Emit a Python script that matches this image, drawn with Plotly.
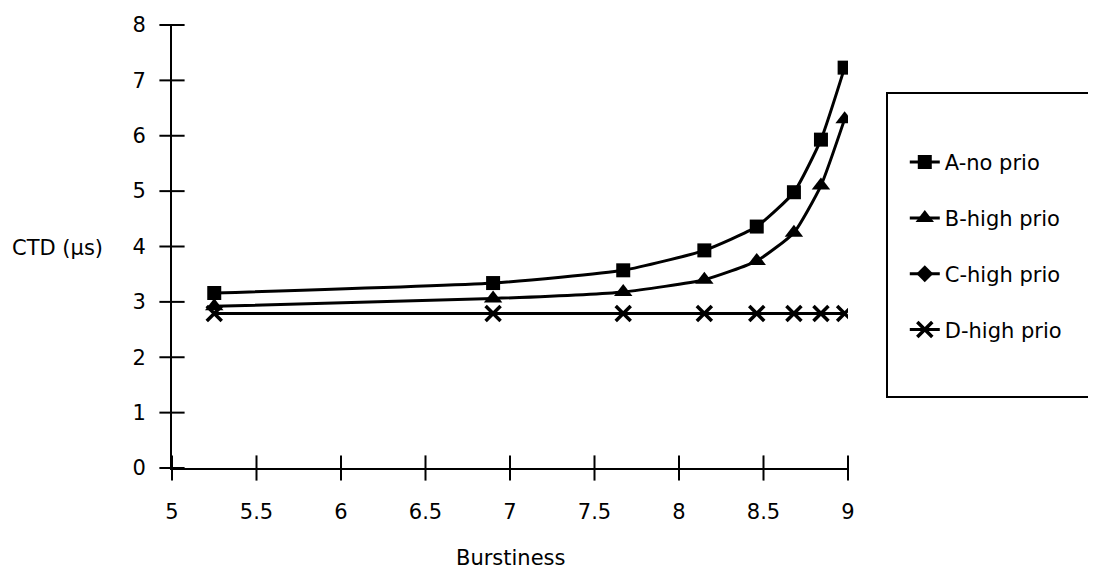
import plotly.graph_objects as go

burstiness = [5.25, 6.9, 7.67, 8.15, 8.46, 8.68, 8.84, 8.98]
a_no_prio = [3.16, 3.34, 3.57, 3.93, 4.36, 4.98, 5.93, 7.23]
b_high_prio = [2.92, 3.06, 3.18, 3.40, 3.74, 4.25, 5.10, 6.30]
c_high_prio = [2.79, 2.79, 2.79, 2.79, 2.79, 2.79, 2.79, 2.79]
d_high_prio = [2.79, 2.79, 2.79, 2.79, 2.79, 2.79, 2.79, 2.79]
x_ticks = [5, 5.5, 6, 6.5, 7, 7.5, 8, 8.5, 9]
y_ticks = [0, 1, 2, 3, 4, 5, 6, 7, 8]

FONT = "DejaVu Sans, Arial, sans-serif"
FS = 21

# plot area in figure pixels (page adds 8px body margin)
L, T, W, H = 164, 17, 676, 443
FIG_W, FIG_H = 1096, 576

fig = go.Figure()
# C coincides with D in the chart (its markers are hidden under the X marks)
fig.add_trace(go.Scatter(x=burstiness, y=c_high_prio, name="C-high prio", mode="lines",
                         line=dict(color="black", width=3),
                         legendgroup="c", showlegend=False))
fig.add_trace(go.Scatter(x=[None], y=[None], name="C-high prio", mode="lines+markers",
                         line=dict(color="black", width=3),
                         marker=dict(symbol="diamond", size=13, color="black"),
                         legendgroup="c", legendrank=3))
fig.add_trace(go.Scatter(x=burstiness, y=d_high_prio, name="D-high prio", mode="lines+markers",
                         line=dict(color="black", width=3),
                         marker=dict(symbol="x-thin", size=15, color="black",
                                     line=dict(color="black", width=3.5)),
                         legendgroup="d", legendrank=4))
fig.add_trace(go.Scatter(x=burstiness, y=b_high_prio, name="B-high prio", mode="lines+markers",
                         line=dict(color="black", width=3, shape="spline", smoothing=0.5),
                         marker=dict(symbol="triangle-up", size=16, color="black"),
                         legendgroup="b", legendrank=2))
fig.add_trace(go.Scatter(x=burstiness, y=a_no_prio, name="A-no prio", mode="lines+markers",
                         line=dict(color="black", width=3, shape="spline", smoothing=0.5),
                         marker=dict(symbol="square", size=14, color="black"),
                         legendgroup="a", legendrank=1))

# cross-style tick marks (straddling the axis lines), placed via the axis scales
fig.add_trace(go.Scatter(x=x_ticks, y=[0] * len(x_ticks), mode="markers",
                         marker=dict(symbol="line-ns", size=18, color="black",
                                     line=dict(color="black", width=2)),
                         showlegend=False, hoverinfo="skip", cliponaxis=False))
fig.add_trace(go.Scatter(x=[5] * len(y_ticks), y=y_ticks, mode="markers",
                         marker=dict(symbol="line-ew", size=18, color="black",
                                     line=dict(color="black", width=2)),
                         showlegend=False, hoverinfo="skip", cliponaxis=False))

axis_common = dict(showgrid=False, zeroline=False, showline=True, linecolor="black",
                   linewidth=2, ticks="")

fig.update_layout(
    width=FIG_W, height=FIG_H,
    margin=dict(l=L, r=FIG_W - L - W, t=T, b=FIG_H - T - H, autoexpand=False),
    paper_bgcolor="white", plot_bgcolor="white",
    font=dict(family=FONT, size=FS, color="black"),
    xaxis=dict(range=[5, 9], tickvals=x_ticks, ticktext=[f"{v:g}" for v in x_ticks],
               ticklabelstandoff=24, **axis_common),
    yaxis=dict(range=[0, 8], tickvals=y_ticks, ticktext=[str(v) for v in y_ticks],
               ticklabelstandoff=20, **axis_common),
    legend=dict(x=1.084, y=0.736, xanchor="left", yanchor="top",
                bgcolor="rgba(0,0,0,0)", borderwidth=0,
                traceorder="grouped", tracegroupgap=25.5,
                font=dict(family=FONT, size=FS, color="black")),
    showlegend=True,
    annotations=[
        dict(text="CTD (µs)", xref="paper", yref="paper", x=(2 - L) / W, y=(T + H - 240) / H,
             showarrow=False, xanchor="left", yanchor="middle", font=dict(size=FS)),
        dict(text="Burstiness", xref="paper", yref="paper", x=(503 - L) / W, y=(T + H - 550) / H,
             showarrow=False, xanchor="center", yanchor="middle", font=dict(size=FS)),
    ],
    shapes=[dict(type="rect", xref="paper", yref="paper",
                 x0=(879 - L) / W, x1=(1085 - L) / W,
                 y0=(T + H - 389) / H, y1=(T + H - 85) / H,
                 line=dict(color="black", width=2))],
)

fig.write_html("out.html")
